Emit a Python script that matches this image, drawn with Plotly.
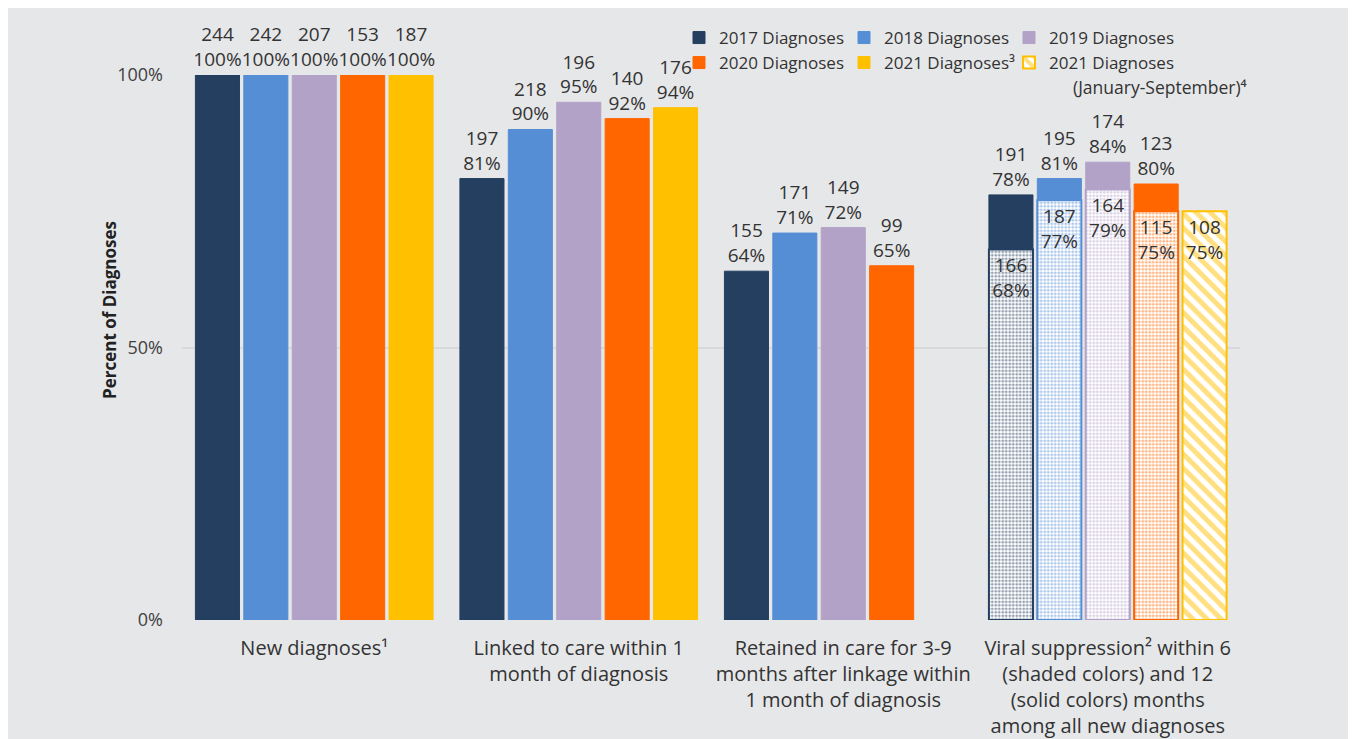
import plotly.graph_objects as go

categories = [
    "New diagnoses¹",
    "Linked to care within 1<br>month of diagnosis",
    "Retained in care for 3-9<br>months after linkage within<br>1 month of diagnosis",
    "Viral suppression² within 6<br>(shaded colors) and 12<br>(solid colors) months<br>among all new diagnoses",
]

years = ["2017", "2018", "2019", "2020", "2021"]
colors = ["#253F60", "#558ED5", "#B3A2C7", "#FF6600", "#FFC000"]
names = ["2017 Diagnoses", "2018 Diagnoses", "2019 Diagnoses", "2020 Diagnoses", "2021 Diagnoses³"]

# solid bars (new, linked, retained, viral suppression 12 months)
pct_2017 = [100, 81, 64, 78]
cnt_2017 = [244, 197, 155, 191]
pct_2018 = [100, 90, 71, 81]
cnt_2018 = [242, 218, 171, 195]
pct_2019 = [100, 95, 72, 84]
cnt_2019 = [207, 196, 149, 174]
pct_2020 = [100, 92, 65, 80]
cnt_2020 = [153, 140, 99, 123]
pct_2021 = [100, 94, None, None]
cnt_2021 = [187, 176, None, None]

# shaded bars (viral suppression within 6 months)
vs6_pct = [68, 77, 79, 75]
vs6_cnt = [166, 187, 164, 115]

# 2021 January-September viral suppression
vs2021_pct = 75
vs2021_cnt = 108

y_tickvals = [0, 50, 100]
y_ticktext = ["0%", "50%", "100%"]

solid_pcts = [pct_2017, pct_2018, pct_2019, pct_2020, pct_2021]
solid_cnts = [cnt_2017, cnt_2018, cnt_2019, cnt_2020, cnt_2021]

FONT = "Open Sans"
TXT = "#333333"
BG = "#E6E7E9"
LBL = 19

fig = go.Figure()


def lab(c, p):
    return "" if p is None else f"{c}<br>{p}%"


for i, y in enumerate(years):
    fig.add_trace(go.Bar(
        x=categories, y=solid_pcts[i], name=names[i],
        offsetgroup=y,
        marker=dict(color=colors[i], line=dict(color=colors[i], width=1)),
        text=[lab(c, p) for c, p in zip(solid_cnts[i], solid_pcts[i])],
        textposition="outside", cliponaxis=False, constraintext="none",
        textfont=dict(family=FONT, size=LBL, color=TXT),
        legend="legend" if i < 3 else "legend2",
        hoverinfo="skip",
    ))

for i, y in enumerate(years[:4]):
    fig.add_trace(go.Bar(
        x=[categories[3]], y=[vs6_pct[i]], name=names[i] + " (6 months)",
        offsetgroup=y, showlegend=False,
        marker=dict(color="white", line=dict(color=colors[i], width=2),
                    pattern=dict(shape=".", fgcolor=colors[i], bgcolor="white",
                                 size=3.5, solidity=0.5)),
        text=[lab(vs6_cnt[i], vs6_pct[i])],
        textposition="inside", insidetextanchor="end", constraintext="none",
        textfont=dict(family=FONT, size=LBL, color=TXT),
        hoverinfo="skip",
    ))

fig.add_trace(go.Bar(
    x=[categories[3]], y=[vs2021_pct], name="2021 Diagnoses",
    offsetgroup="2021", legend="legend2",
    marker=dict(color="white", line=dict(color=colors[4], width=2),
                pattern=dict(shape="\\", fgcolor=colors[4], bgcolor="white",
                             size=10, solidity=0.5)),
    text=[lab(vs2021_cnt, vs2021_pct)],
    textposition="inside", insidetextanchor="end", constraintext="none",
    textfont=dict(family=FONT, size=LBL, color=TXT),
    hoverinfo="skip",
))

# page body has an 8px margin; figure sized to fill the rest of the window
W, H = 1348, 731
L, T = 174, 67
pw, ph = 1058, 545
R, B = W - L - pw, H - T - ph

leg_common = dict(orientation="h", xanchor="left", yanchor="middle",
                  bgcolor="rgba(0,0,0,0)", entrywidth=120, entrywidthmode="pixels",
                  font=dict(family=FONT, size=17, color=TXT),
                  traceorder="normal", itemclick=False)

fig.update_layout(
    width=W, height=H,
    margin=dict(l=L, r=R, t=T, b=B, autoexpand=False),
    paper_bgcolor=BG, plot_bgcolor=BG,
    barmode="group", bargap=0.085, bargroupgap=0.09,
    font=dict(family=FONT, color=TXT),
    legend=dict(x=497 / pw, y=1 + (75 - 38) / ph, **leg_common),
    legend2=dict(x=497 / pw, y=1 + (75 - 63) / ph, **leg_common),
    xaxis=dict(tickfont=dict(family=FONT, size=20, color="#333333"),
               showgrid=False, zeroline=False, showline=False, ticks="",
               ticklabelstandoff=14),
    yaxis=dict(range=[0, 100], tickmode="array", tickvals=y_tickvals, ticktext=y_ticktext,
               tickfont=dict(family=FONT, size=18, color="#404040"),
               showgrid=True, gridcolor="#D8D9DB", gridwidth=1.5,
               zeroline=False, showline=False, ticks="", ticklabelstandoff=18),
    showlegend=True,
    annotations=[
        dict(text="(January-September)⁴", xref="paper", yref="paper",
             x=(1071 - 182) / pw, y=1 + (75 - 87) / ph, xanchor="left",
             yanchor="middle", showarrow=False,
             font=dict(family=FONT, size=17.5, color=TXT)),
        dict(text="<b>Percent of Diagnoses</b>", xref="paper", yref="paper",
             x=(109 - 182) / pw, y=1 - (310 - 75) / ph, xanchor="center",
             yanchor="middle", textangle=-90, showarrow=False,
             font=dict(family=FONT, size=17, color="#222222")),
    ],
)

fig.write_html("out.html")
